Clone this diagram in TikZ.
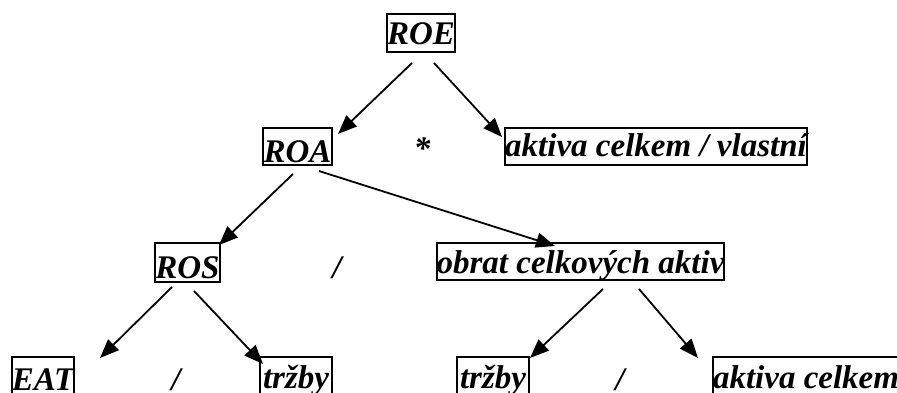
\documentclass[tikz,border=0pt]{standalone}
\usepackage{fontspec}
\setmainfont{Liberation Serif}
\usetikzlibrary{arrows.meta}

\tikzset{
  lbl/.style={font=\fontsize{33}{33}\selectfont\bfseries\itshape, inner sep=0pt},
  bx/.style n args={3}{lbl, draw, line width=1.8pt, anchor=base,
    minimum width=#1, text height=#2, text depth=#3},
  op/.style={lbl, anchor=base},
  arr/.style={line width=1.8pt, -{Triangle[length=19pt,width=15pt]}}
}

\begin{document}
\begin{tikzpicture}[x=1pt, y=-1pt]
\useasboundingbox (0,0) rectangle (897,393);

% boxes (positioned by text baseline)
\node[bx={68pt}{31pt}{7pt}]  (roe)   at (421,45)   {ROE};
\node[bx={69pt}{34pt}{3pt}]  (roa)   at (297.5,162) {ROA};
\node[bx={298pt}{29pt}{8pt}] (akv)   at (656,157)  {aktiva celkem / vlastní};
\node[bx={65pt}{35pt}{4pt}]  (ros)   at (187.5,278) {ROS};
\node[bx={285pt}{30pt}{7pt}] (obrat) at (580.5,273) {obrat celkových aktiv};
\node[bx={62pt}{33pt}{7pt}]  (eat)   at (43,390)   {EAT};
\node[bx={72pt}{31pt}{8pt}]  (trz1)  at (296,388)  {tržby};
\node[bx={72pt}{31pt}{8pt}]  (trz2)  at (493,388)  {tržby};
\node[bx={182pt}{31pt}{8pt}] (ak)    at (806,388)  {aktiva celkem};

% operators
\node[op] (mul)  at (422,160) {*};
\node[op] (div1) at (337,278) {/};
\node[op] (div2) at (176,390) {/};
\node[op] (div3) at (620,390) {/};

% connector ends
\coordinate (roe-l) at (412,63);
\coordinate (roe-r) at (434,63);
\coordinate (roa-in) at (338,134);
\coordinate (akv-in) at (502,137);
\coordinate (roa-l) at (293,174);
\coordinate (roa-r) at (319,171);
\coordinate (ros-in) at (219,245);
\coordinate (obrat-in) at (555,246);
\coordinate (ros-l) at (172,287);
\coordinate (ros-r) at (194,291);
\coordinate (eat-in) at (100,358);
\coordinate (trz1-in) at (263,364);
\coordinate (obrat-l) at (603,289);
\coordinate (obrat-r) at (639,289);
\coordinate (trz2-in) at (530,358);
\coordinate (ak-in) at (698,358);

\draw[arr] (roe-l) -- (roa-in);
\draw[arr] (roe-r) -- (akv-in);
\draw[arr] (roa-l) -- (ros-in);
\draw[arr] (roa-r) -- (obrat-in);
\draw[arr] (ros-l) -- (eat-in);
\draw[arr] (ros-r) -- (trz1-in);
\draw[arr] (obrat-l) -- (trz2-in);
\draw[arr] (obrat-r) -- (ak-in);
\end{tikzpicture}
\end{document}
